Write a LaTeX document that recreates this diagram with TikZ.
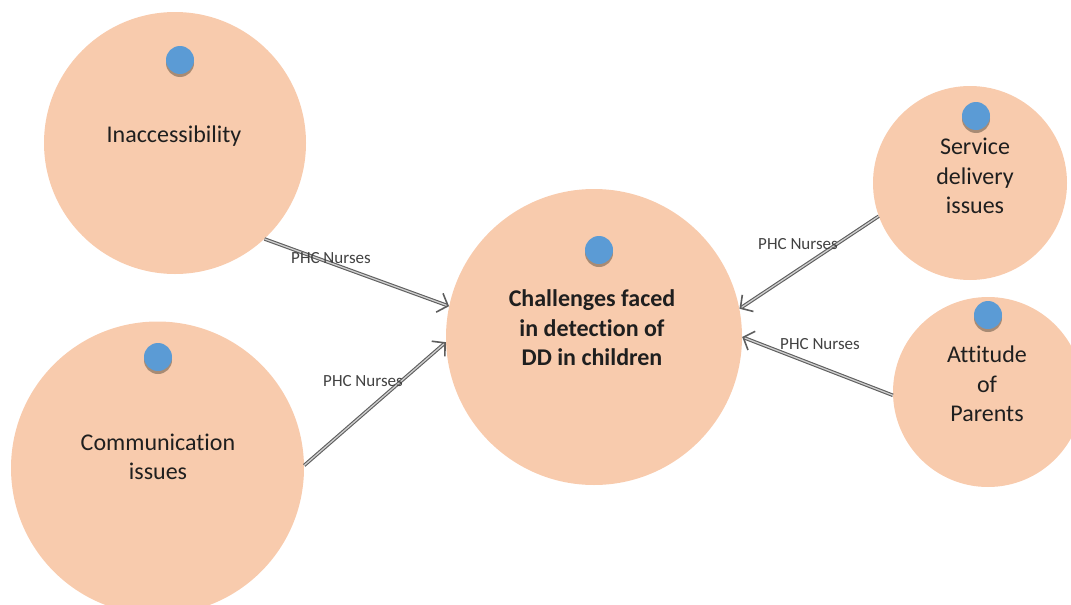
\documentclass[tikz,border=0pt]{standalone}
\usepackage{fontspec}
\setmainfont[Ligatures=NoCommon]{Carlito}
\usetikzlibrary{arrows.meta}
\definecolor{peach}{HTML}{F8CBAD}
\definecolor{dotblue}{HTML}{5B9BD5}
\definecolor{dotshadow}{HTML}{A88B74}
\definecolor{linkgray}{HTML}{5E5E5E}
\definecolor{txt}{HTML}{1F1F1F}
\tikzset{
  bubble/.style={circle, fill=peach, draw=none, inner sep=0pt},
  bubbletext/.style={text=txt, align=center, font=\fontsize{24}{29.5}\selectfont, inner sep=0pt},
  linklabel/.style={text=txt!85!white, font=\fontsize{17}{20}\selectfont, inner sep=0pt},
  link/.style={draw=linkgray, line width=1.1pt, double=linkgray!30!white, double distance=1.3pt, -{Straight Barb[length=9pt,width=20pt,line width=1.6pt]}},
  dotshade/.style={circle, fill=dotshadow, minimum size=28pt, inner sep=0pt},
  dotmain/.style={circle, fill=dotblue, minimum size=28pt, inner sep=0pt}
}
\newcommand{\bluedot}[3]{%
  \node[dotshade] (#1s) at (#2,#3+3) {};
  \node[dotmain] (#1) at (#2,#3) {};
}
\begin{document}
\begin{tikzpicture}[x=1pt,y=-1pt]
\useasboundingbox (0,0) rectangle (1071,605);
\begin{scope}
\clip (0,0) rectangle (1071,605);
\node[bubble, minimum size=262pt] (inacc) at (175,143) {};
\node[bubble, minimum size=293pt] (comm) at (157.5,468) {};
\node[bubble, minimum size=296pt] (chal) at (594,337) {};
\node[bubble, minimum size=194pt] (serv) at (970,183) {};
\node[bubble, minimum size=190pt] (att) at (988,392) {};
\end{scope}

\bluedot{dA}{180}{60}
\bluedot{dB}{158}{357}
\bluedot{dC}{599}{250}
\bluedot{dD}{976}{116}
\bluedot{dE}{988}{315}

\node[bubbletext] (tA) at (174,136) {Inaccessibility};
\node[bubbletext] (tB) at (158,457) {Communication\\issues};
\node[bubbletext, font=\fontsize{24}{29.5}\selectfont\bfseries] (tC) at (592,328) {Challenges faced\\in detection of\\DD in children};
\node[bubbletext] (tD) at (975,176) {Service\\delivery\\issues};
\node[bubbletext] (tE) at (987,384) {Attitude\\of\\Parents};

\draw[link] (inacc.-47) -- (chal.168);
\draw[link] (comm.1) -- (chal.182);
\draw[link] (serv.200) -- (chal.11.5);
\draw[link] (att.182) -- (chal.0);

\node[linklabel] (lA) at (331,258) {PHC Nurses};
\node[linklabel] (lB) at (363,381) {PHC Nurses};
\node[linklabel] (lC) at (798,244) {PHC Nurses};
\node[linklabel] (lD) at (820,344) {PHC Nurses};
\end{tikzpicture}
\end{document}
